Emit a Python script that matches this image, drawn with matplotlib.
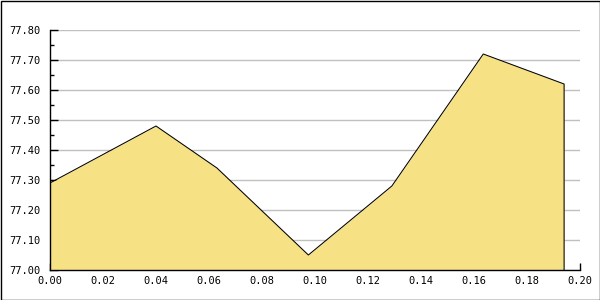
import matplotlib
matplotlib.use("Agg")
import matplotlib.pyplot as plt
from matplotlib.ticker import MultipleLocator, FormatStrFormatter
from matplotlib.patches import Rectangle

x_vals = [0.0, 0.040, 0.063, 0.0975, 0.129, 0.1635, 0.194]
y_vals = [77.29, 77.48, 77.34, 77.05, 77.28, 77.72, 77.62]

fig = plt.figure(figsize=(6, 3), dpi=100)
ax = fig.add_axes([50/600, 30/300, 530/600, 240/300])

base = 77.0
ax.fill_between(x_vals, y_vals, base, color='#F6E184', linewidth=0, zorder=2)
ax.plot(x_vals + [x_vals[-1]], y_vals + [base], color='black', linewidth=0.75, zorder=3)

ax.set_xlim(0, 0.20)
ax.set_ylim(77.0, 77.8)
ax.xaxis.set_major_locator(MultipleLocator(0.02))
ax.yaxis.set_major_locator(MultipleLocator(0.1))
ax.yaxis.set_minor_locator(MultipleLocator(0.05))
ax.xaxis.set_major_formatter(FormatStrFormatter('%.2f'))
ax.yaxis.set_major_formatter(FormatStrFormatter('%.2f'))

ax.grid(axis='y', which='major', color='#C0C0C0', linewidth=1.0, zorder=1)
ax.set_axisbelow(True)
for s in ['top', 'right']:
    ax.spines[s].set_visible(False)
for s in ['left', 'bottom']:
    ax.spines[s].set_color('black')
    ax.spines[s].set_linewidth(1.0)
    ax.spines[s].set_zorder(4)

ax.tick_params(axis='y', which='major', direction='in', length=6, width=1, pad=7,
               labelsize=7.5, labelfontfamily='DejaVu Sans Mono')
ax.tick_params(axis='y', which='minor', direction='in', length=3, width=1)
ax.tick_params(axis='x', which='major', direction='in', length=5, width=1, pad=4,
               labelsize=7.5, labelfontfamily='DejaVu Sans Mono')

fig.patches.append(Rectangle((0.5/600, 0.5/300), 599/600, 299/300, transform=fig.transFigure,
                             fill=False, edgecolor='black', linewidth=1.0))
fig.savefig('out.png', dpi=100)
